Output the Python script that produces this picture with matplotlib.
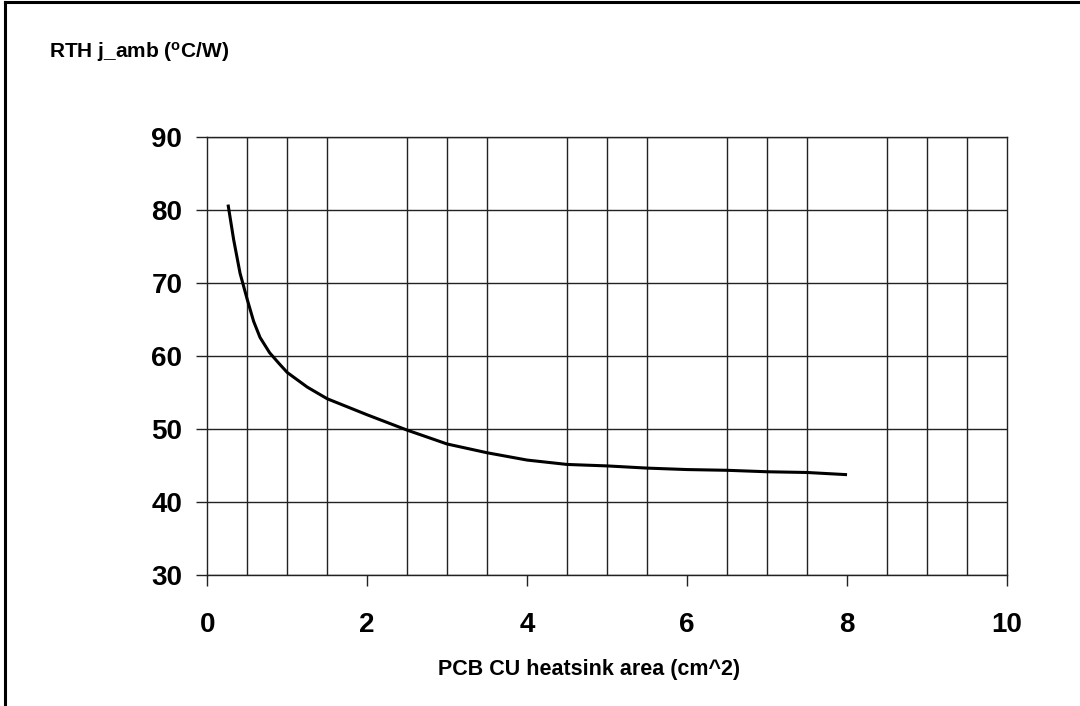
import matplotlib
matplotlib.use('Agg')
import matplotlib.pyplot as plt
from matplotlib.lines import Line2D

plt.rcParams['font.family'] = ['Liberation Sans', 'DejaVu Sans']
plt.rcParams['mathtext.fontset'] = 'custom'
plt.rcParams['mathtext.rm'] = 'Liberation Sans:bold'
plt.rcParams['mathtext.it'] = 'Liberation Sans:bold'
plt.rcParams['mathtext.bf'] = 'Liberation Sans:bold'

# PCB copper area (cm^2) vs junction-ambient thermal resistance (C/W)
area = [0.26, 0.33, 0.41, 0.5, 0.58, 0.66, 0.78, 0.9, 1.0, 1.25, 1.5, 2.0, 2.5,
        3.0, 3.5, 4.0, 4.5, 5.0, 5.5, 6.0, 6.5, 7.0, 7.5, 8.0]
rth = [80.7, 75.9, 71.3, 67.7, 64.7, 62.5, 60.4, 58.9, 57.7, 55.7, 54.1, 51.9, 49.8,
       47.9, 46.7, 45.7, 45.1, 44.9, 44.6, 44.4, 44.3, 44.1, 44.0, 43.7]

x_ticks = [0, 2, 4, 6, 8, 10]
y_ticks = [30, 40, 50, 60, 70, 80, 90]

fig = plt.figure(figsize=(10.8, 7.06), dpi=100)
ax = fig.add_axes([0.1919, 0.186, 0.7405, 0.6204])

ax.plot(area, rth, color='black', linewidth=2.2, solid_capstyle='butt', zorder=3)

ax.set_xlim(0, 10)
ax.set_ylim(30, 90)
ax.set_xticks(x_ticks)
ax.set_yticks(y_ticks)
ax.set_xticks([v / 2 for v in range(21)], minor=True)

# grid: every 0.5 on x, every 10 on y
ax.grid(which='minor', axis='x', color='#222222', linewidth=1.0)
ax.grid(which='major', axis='y', color='#222222', linewidth=1.0)
ax.tick_params(axis='x', which='minor', length=0)
ax.tick_params(axis='both', which='major', direction='out', length=8, width=1.0,
               color='#222222', labelsize=20)
ax.tick_params(axis='x', which='major', pad=19)
ax.tick_params(axis='y', which='major', pad=10)
for lab in ax.get_xticklabels() + ax.get_yticklabels():
    lab.set_fontweight('bold')

for s in ax.spines.values():
    s.set_color('#222222')
    s.set_linewidth(1.0)

fig.text(0.045, 0.926, r'RTH j_amb ($^{o}$C/W)', fontsize=15, fontweight='bold',
         ha='left', va='center')
fig.text(0.545, 0.051, 'PCB CU heatsink area (cm^2)', fontsize=15.5, fontweight='bold',
         ha='center', va='center')

# outer frame (top and left edges only visible)
fig.add_artist(Line2D([0.0046, 1.0], [0.9965, 0.9965], color='black', linewidth=2.2,
                      transform=fig.transFigure))
fig.add_artist(Line2D([0.0046, 0.0046], [0.0, 0.9965], color='black', linewidth=2.2,
                      transform=fig.transFigure))

fig.savefig('out.png', dpi=100)
